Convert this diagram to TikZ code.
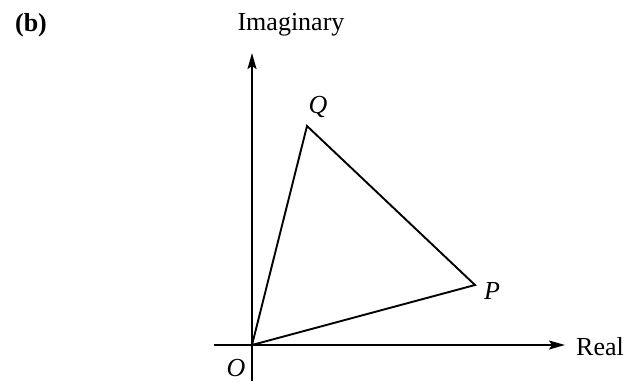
\documentclass[tikz,border=0pt]{standalone}
\usepackage{fontspec}
\setmainfont{Liberation Serif}
\usetikzlibrary{arrows.meta}
\begin{document}
\begin{tikzpicture}[x=0.5pt,y=-0.5pt,
  axis/.style={line width=0.95pt,-{Stealth[length=8pt,width=4.5pt,inset=1.5pt]}},
  edge/.style={line width=0.95pt,line join=miter},
  lab/.style={font=\fontsize{13}{15}\selectfont\itshape,inner sep=0pt},
  txt/.style={font=\fontsize{13}{15}\selectfont,inner sep=0pt}]
\useasboundingbox (0,0) rectangle (627,381);
\coordinate (o) at (252,345);
\coordinate (p) at (475,285);
\coordinate (q) at (307,126);
\coordinate (ybot) at (252,381);
\coordinate (ytop) at (252,53);
\coordinate (xl) at (214,345);
\coordinate (xr) at (565,345);
\draw[axis] (ybot) -- (ytop);
\draw[axis] (xl) -- (xr);
\draw[edge] (o) -- (q) -- (p) -- cycle;
\node[txt,font=\fontsize{13}{15}\selectfont\bfseries] (b) at (31,25) {(b)};
\node[txt] (im) at (291,25) {Imaginary};
\node[txt] (re) at (600,347) {Real};
\node[lab] (ql) at (318,107) {Q};
\node[lab] (pl) at (492,291) {P};
\node[lab] (ol) at (236,368) {O};
\end{tikzpicture}
\end{document}
